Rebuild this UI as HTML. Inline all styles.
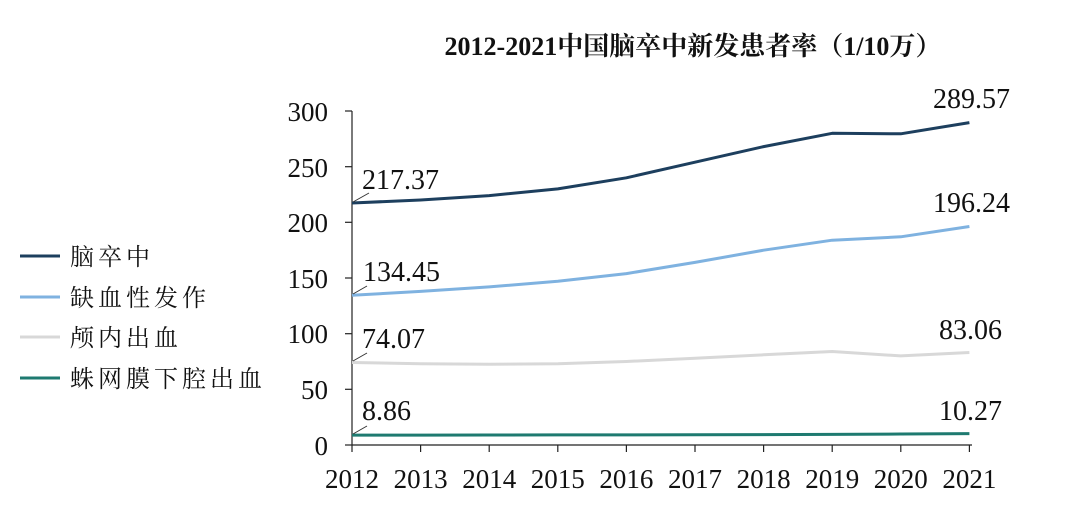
<!DOCTYPE html>
<html><head><meta charset="utf-8"><style>
html,body{margin:0;padding:0;background:#fff;width:1080px;height:516px;overflow:hidden}
svg text{font-family:"Liberation Serif","Noto Serif CJK SC",serif;fill:#111}
</style></head><body>
<svg width="1080" height="516" viewBox="0 0 1080 516" xmlns="http://www.w3.org/2000/svg">
<text x="693" y="55" font-size="26" font-weight="bold" text-anchor="middle">2012-2021中国脑卒中新发患者率（1/10万）</text>
<g stroke="#222" stroke-width="1.2" fill="none">
<line x1="352" y1="111" x2="352" y2="445"/>
<line x1="352" y1="445" x2="972" y2="445"/>
<line x1="345" y1="111" x2="352" y2="111"/><line x1="345" y1="166.7" x2="352" y2="166.7"/>
<line x1="345" y1="222.3" x2="352" y2="222.3"/><line x1="345" y1="278" x2="352" y2="278"/>
<line x1="345" y1="333.7" x2="352" y2="333.7"/><line x1="345" y1="389.3" x2="352" y2="389.3"/>
<line x1="345" y1="445" x2="352" y2="445"/>
<line x1="352" y1="445" x2="352" y2="452"/><line x1="420.6" y1="445" x2="420.6" y2="452"/>
<line x1="489.2" y1="445" x2="489.2" y2="452"/><line x1="557.8" y1="445" x2="557.8" y2="452"/>
<line x1="626.4" y1="445" x2="626.4" y2="452"/><line x1="695" y1="445" x2="695" y2="452"/>
<line x1="763.6" y1="445" x2="763.6" y2="452"/><line x1="832.2" y1="445" x2="832.2" y2="452"/>
<line x1="900.8" y1="445" x2="900.8" y2="452"/><line x1="969.4" y1="445" x2="969.4" y2="452"/>
</g>
<g font-size="27" text-anchor="end">
<text x="328" y="121">300</text><text x="328" y="177">250</text><text x="328" y="232">200</text>
<text x="328" y="288">150</text><text x="328" y="343">100</text><text x="328" y="399">50</text><text x="328" y="455">0</text>
</g>
<g font-size="27" text-anchor="middle">
<text x="352" y="488">2012</text><text x="420.6" y="488">2013</text><text x="489.2" y="488">2014</text>
<text x="557.8" y="488">2015</text><text x="626.4" y="488">2016</text><text x="695" y="488">2017</text>
<text x="763.6" y="488">2018</text><text x="832.2" y="488">2019</text><text x="900.8" y="488">2020</text><text x="969.4" y="488">2021</text>
</g>
<g fill="none" stroke-width="3" stroke-linejoin="round">
<polyline stroke="#1d3f5e" points="352,203 420.6,200 489.2,195.6 557.8,188.9 626.4,177.8 695,162.2 763.6,146.6 832.2,133.3 900.8,133.8 969.4,122.6"/>
<polyline stroke="#7fb2e0" points="352,295.3 420.6,291.4 489.2,286.9 557.8,281.3 626.4,273.6 695,262.4 763.6,250.2 832.2,240.2 900.8,236.8 969.4,226.5"/>
<polyline stroke="#d8d8d8" points="352,362.5 420.6,363.7 489.2,364.3 557.8,363.7 626.4,361.5 695,358.2 763.6,354.8 832.2,351.5 900.8,355.9 969.4,352.5"/>
<polyline stroke="#1e7a70" points="352,435.1 420.6,435.1 489.2,435 557.8,434.9 626.4,434.9 695,434.7 763.6,434.6 832.2,434.4 900.8,434 969.4,433.6"/>
</g>
<g stroke="#333" stroke-width="1">
<line x1="353" y1="202" x2="369" y2="193"/><line x1="353" y1="294" x2="367" y2="286"/>
<line x1="353" y1="361" x2="367" y2="353"/><line x1="353" y1="434" x2="367" y2="426"/>
</g>
<g font-size="28">
<text x="362" y="189">217.37</text><text x="363" y="281">134.45</text>
<text x="362" y="348">74.07</text><text x="362" y="420">8.86</text>
<text x="1010" y="108" text-anchor="end">289.57</text><text x="1010" y="212" text-anchor="end">196.24</text>
<text x="1002" y="339" text-anchor="end">83.06</text><text x="1002" y="420" text-anchor="end">10.27</text>
</g>
<g stroke-width="3">
<line x1="20" y1="256" x2="60" y2="256" stroke="#1d3f5e"/>
<line x1="20" y1="297" x2="60" y2="297" stroke="#7fb2e0"/>
<line x1="20" y1="337" x2="60" y2="337" stroke="#d8d8d8"/>
<line x1="20" y1="378" x2="60" y2="378" stroke="#1e7a70"/>
</g>
<g font-size="24" letter-spacing="4">
<text x="70" y="265">脑卒中</text><text x="70" y="306">缺血性发作</text>
<text x="70" y="346">颅内出血</text><text x="70" y="387">蛛网膜下腔出血</text>
</g>
</svg>
</body></html>
